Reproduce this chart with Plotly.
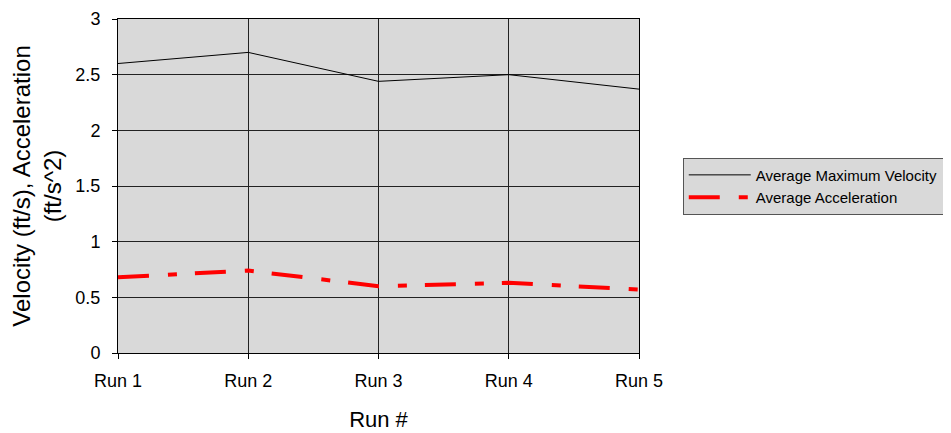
import plotly.graph_objects as go

runs = ["Run 1", "Run 2", "Run 3", "Run 4", "Run 5"]
avg_max_velocity = [2.60, 2.70, 2.44, 2.50, 2.37]
avg_acceleration = [0.68, 0.74, 0.60, 0.63, 0.57]

fig = go.Figure()
fig.add_trace(go.Scatter(x=runs, y=avg_max_velocity, mode="lines",
                         name="Average Maximum Velocity",
                         line=dict(color="black", width=1)))
fig.add_trace(go.Scatter(x=runs, y=avg_acceleration, mode="lines",
                         name="Average Acceleration",
                         line=dict(color="#ff0000", width=4, dash="31px,19px,9px,18px")))

fig.update_layout(
    width=943, height=425,
    margin=dict(l=110, r=312, t=11, b=80, autoexpand=False),
    paper_bgcolor="white", plot_bgcolor="#d9d9d9",
    font=dict(family="Liberation Sans, Arial", color="black", size=18),
    showlegend=True,
    legend=dict(x=1.084, y=0.585, xanchor="left", yanchor="top",
                bgcolor="#d9d9d9", bordercolor="#555555", borderwidth=1,
                font=dict(size=15), tracegroupgap=0, itemwidth=62),
    xaxis=dict(type="category", range=[0, 4], showgrid=True, gridcolor="#222222",
               gridwidth=1, showline=True, linecolor="black", mirror=True,
               ticks="outside", ticklen=5, tickcolor="black", ticklabelstandoff=6,
               automargin=False,
               title=dict(text="Run #", font=dict(size=22), standoff=22)),
    yaxis=dict(range=[0, 3], dtick=0.5, showgrid=True, gridcolor="#222222",
               gridwidth=1, showline=True, linecolor="black", mirror=True,
               ticks="outside", ticklen=5, tickcolor="black", zeroline=False,
               ticklabelstandoff=8, automargin=False,
               title=dict(text="Velocity (ft/s), Acceleration<br>(ft/s^2)",
                          font=dict(size=24), standoff=16)),
)

fig.write_html("out.html")
